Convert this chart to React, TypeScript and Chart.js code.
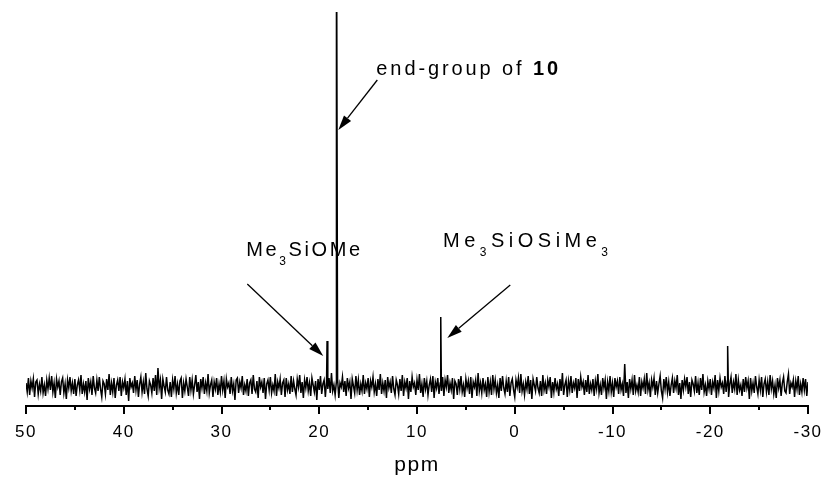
import { useEffect, useRef } from "react";
import { Chart, registerables } from "chart.js";

Chart.register(...registerables);

// ---- data ----
const PPM_START = 50;
const PPM_STEP = 0.125;
// baseline noise (one value per sample)
const NOISE = [
  3,-6,8,-9,5,-2,7,-11,4,6,-8,2,-5,9,-7,1,-10,6,-3,8,
  -4,10,-6,3,-12,7,-1,5,-9,4,8,-7,2,-13,6,-2,9,-5,3,-8,
  7,-10,1,6,-4,11,-8,2,-6,5,-14,8,-3,4,-9,10,-2,-7,6,-5,
  9,-3,-11,5,2,-8,7,-4,12,-9,3,-6,8,-12,1,6,-5,9,-10,4,
  -2,7,-9,5,-15,8,-1,3,-7,10,-4,6,-11,2,9,-6,4,-8,13,-3,
  -10,5,1,-7,8,-5,11,-9,18,-2,6,-13,7,0,-6,9,-4,-8,4,-11,
  6,-3,10,-7,2,-9,5,8,-12,3,-5,7,-1,-10,9,-4,6,-8,1,11,
  -6,4,-13,7,-2,9,-8,3,-5,12,-7,1,6,-11,4,-3,8,-9,2,-6,
  10,-4,5,-12,7,-1,3,-8,9,-5,2,-14,6,8,-7,4,-2,10,-9,1,
  -5,7,-10,3,6,-8,11,-3,-6,5,-12,9,-1,4,-7,8,-13,2,6,-4,
  9,-7,1,-5,12,-10,4,-2,7,-9,3,6,-11,8,-4,2,-8,10,-6,5,
  -3,-9,7,-1,11,-7,4,-12,6,-2,9,-5,3,-10,8,1,-6,5,-14,7,
  -4,10,-8,2,6,-11,5,-3,8,-7,13,-5,1,-9,4,7,-12,3,-1,9,
  -6,5,-10,8,-2,4,-13,7,0,-7,10,-4,6,-9,2,-5,11,-8,3,-3,
  8,-11,5,-1,9,-6,2,-10,7,-4,12,-8,3,-5,6,-12,9,-2,4,-7,
  10,-3,-9,6,1,-8,7,-5,11,-10,4,-2,8,-13,5,-6,9,-1,3,-9,
  6,-4,12,-7,2,-11,8,-3,5,-9,1,7,-6,10,-12,4,-2,8,-8,3,
  -5,9,-10,6,-1,11,-7,3,-4,8,-13,5,2,-9,7,-3,10,-6,1,-11,
  7,-2,5,-8,9,-12,4,-1,6,-10,13,-5,3,-7,8,-4,2,-11,9,-6,
  4,-9,11,-3,6,-7,1,-12,8,-5,10,-2,-8,5,-6,9,-10,3,7,-4,
  -11,6,-1,8,-7,12,-5,2,-9,4,-3,10,-8,6,-13,7,1,-5,9,-2,
  -7,5,-10,11,-4,3,-8,6,-1,9,-12,4,-6,8,-3,2,-10,7,-5,13,
  -9,1,6,-11,5,-4,10,-7,3,-2,8,-12,7,-5,9,-1,4,-9,6,-6,
  11,-8,2,-4,7,-10,5,-3,12,-7,1,-9,8,-2,6,-13,4,-5,10,-6,
  3,-11,8,-1,5,-8,9,-4,2,-10,22,-7,4,-12,7,-3,6,-9,11,-5,
  1,-6,9,-10,4,-2,7,-8,13,-4,3,-11,6,-1,8,-9,5,-7,2,10,
  -5,-12,7,-3,9,-6,4,-10,1,8,-7,5,-2,11,-9,3,-13,6,-4,7,
  -1,9,-8,4,-11,6,2,-5,10,-7,3,-9,8,-4,12,-6,1,-10,5,-3,
  7,-9,4,-2,11,-12,6,-5,8,-1,3,-8,10,-6,5,-11,2,9,-7,4,
  -3,12,-9,6,-4,1,-10,7,-6,9,-2,5,-13,8,-5,3,-7,10,-1,-8,
  6,-4,9,-11,2,7,-6,4,-9,11,-3,5,-8,1,-12,8,-2,6,-10,3,
  9,-5,-7,4,12,-8,3,-1,6,-11,5,-3,10,-9,2,-6,8,-4,7,-10,
  4,
];
const PEAK_PPM = [19.2, 18.24, 7.57, -21.78];
const PEAK_HEIGHT = [45, 520, 69, 40];
const X_MIN = -30;
const X_MAX = 50;
const X_TICKS = [50, 40, 30, 20, 10, 0, -10, -20, -30];
const X_MINOR_TICKS = [45, 35, 25, 15, 5, -5, -15, -25];
const X_TITLE = "ppm";
const Y_MIN = -20;
const Y_MAX = 374;

type Seg = { t: string; b?: boolean; sub?: boolean };
const LABEL_TEXTS: Seg[][] = [
  [{ t: "end-group of " }, { t: "10", b: true }],
  [{ t: "Me" }, { t: "3", sub: true }, { t: "SiOMe" }],
  [{ t: "Me" }, { t: "3", sub: true }, { t: "SiOSiMe" }, { t: "3", sub: true }],
];
const LABEL_PPM = [14.16, 27.46, 7.34];
const LABEL_Y = [311, 130, 139];
const LABEL_SPACING = [2.9, 2.6, 4.5];
const ARROW_FROM: [number, number][] = [[14.06, 306], [27.36, 102], [0.46, 101]];
const ARROW_TO: [number, number][] = [[18.05, 256], [19.59, 30], [6.9, 48]];

const FONT = "'Liberation Sans', Arial, Helvetica, sans-serif";

const overlay = {
  id: "overlay",
  beforeDraw(chart: any) {
    (chart.ctx as any).letterSpacing = "1.5px";
  },
  afterDraw(chart: any) {
    const ctx: CanvasRenderingContext2D = chart.ctx;
    const xs = chart.scales.x;
    const ys = chart.scales.y;
    const area = chart.chartArea;
    ctx.save();
    ctx.strokeStyle = "#000";
    ctx.fillStyle = "#000";
    ctx.lineWidth = 2;
    // axis line
    ctx.beginPath();
    ctx.moveTo(area.left - 1, area.bottom);
    ctx.lineTo(area.right + 1, area.bottom);
    ctx.stroke();
    // ticks
    const tick = (v: number, len: number) => {
      const px = Math.round(xs.getPixelForValue(v));
      ctx.beginPath();
      ctx.moveTo(px, area.bottom);
      ctx.lineTo(px, area.bottom + len);
      ctx.stroke();
    };
    X_TICKS.forEach((v) => tick(v, 8));
    X_MINOR_TICKS.forEach((v) => tick(v, 4));

    // arrows
    ctx.lineWidth = 1.3;
    ARROW_FROM.forEach((f, i) => {
      const t = ARROW_TO[i];
      const x1 = xs.getPixelForValue(f[0]);
      const y1 = ys.getPixelForValue(f[1]);
      const x2 = xs.getPixelForValue(t[0]);
      const y2 = ys.getPixelForValue(t[1]);
      const ang = Math.atan2(y2 - y1, x2 - x1);
      const L = 15;
      const W = 4.5;
      const bx = x2 - L * Math.cos(ang);
      const by = y2 - L * Math.sin(ang);
      ctx.beginPath();
      ctx.moveTo(x1, y1);
      ctx.lineTo(bx, by);
      ctx.stroke();
      ctx.beginPath();
      ctx.moveTo(x2, y2);
      ctx.lineTo(bx + W * Math.sin(ang), by - W * Math.cos(ang));
      ctx.lineTo(bx - W * Math.sin(ang), by + W * Math.cos(ang));
      ctx.closePath();
      ctx.fill();
    });

    // labels
    ctx.textAlign = "left";
    ctx.textBaseline = "alphabetic";
    LABEL_TEXTS.forEach((segs, i) => {
      let x = xs.getPixelForValue(LABEL_PPM[i]);
      const y = ys.getPixelForValue(LABEL_Y[i]);
      (ctx as any).letterSpacing = LABEL_SPACING[i] + "px";
      segs.forEach((s) => {
        const size = s.sub ? 12 : 20;
        ctx.font = `${s.b ? "bold " : ""}${size}px ${FONT}`;
        ctx.fillText(s.t, x, s.sub ? y + 9 : y);
        x += ctx.measureText(s.t).width;
      });
    });
    ctx.restore();
    (ctx as any).letterSpacing = "0px";
  },
};

export default function App() {
  const ref = useRef<HTMLCanvasElement | null>(null);
  useEffect(() => {
    document.body.style.margin = "0";
    const points = NOISE.map((v, i) => ({ x: PPM_START - i * PPM_STEP, y: v }));
    PEAK_PPM.forEach((p, k) => points.push({ x: p, y: PEAK_HEIGHT[k] }));
    points.sort((a, b) => b.x - a.x);
    const chart = new Chart(ref.current as HTMLCanvasElement, {
      type: "line",
      data: {
        datasets: [
          {
            data: points,
            borderColor: "#000",
            borderWidth: 1.5,
            pointRadius: 0,
            tension: 0,
          },
        ],
      },
      options: {
        animation: false,
        responsive: false,
        events: [],
        layout: { padding: { left: 26, right: 18, top: 12, bottom: 1 } },
        plugins: { legend: { display: false }, tooltip: { enabled: false } },
        scales: {
          x: {
            type: "linear",
            reverse: true,
            min: X_MIN,
            max: X_MAX,
            grid: { display: false },
            border: { display: false },
            afterBuildTicks: (s: any) => {
              s.ticks = X_TICKS.map((v) => ({ value: v }));
            },
            afterFit: (s: any) => {
              s.height = 72;
              s.paddingLeft = 0;
              s.paddingRight = 0;
            },
            ticks: {
              padding: 8,
              color: "#000",
              maxRotation: 0,
              autoSkip: false,
              font: { family: FONT, size: 17 },
            },
            title: {
              display: true,
              text: X_TITLE,
              color: "#000",
              font: { family: FONT, size: 21 },
              padding: { top: 4, bottom: 0 },
            },
          },
          y: { display: false, min: Y_MIN, max: Y_MAX },
        },
      },
      plugins: [overlay],
    } as any);
    return () => chart.destroy();
  }, []);
  return (
    <div style={{ position: "absolute", left: 0, top: 0, width: 826, height: 479 }}>
      <canvas ref={ref} width={826} height={479} style={{ display: "block" }} />
    </div>
  );
}
